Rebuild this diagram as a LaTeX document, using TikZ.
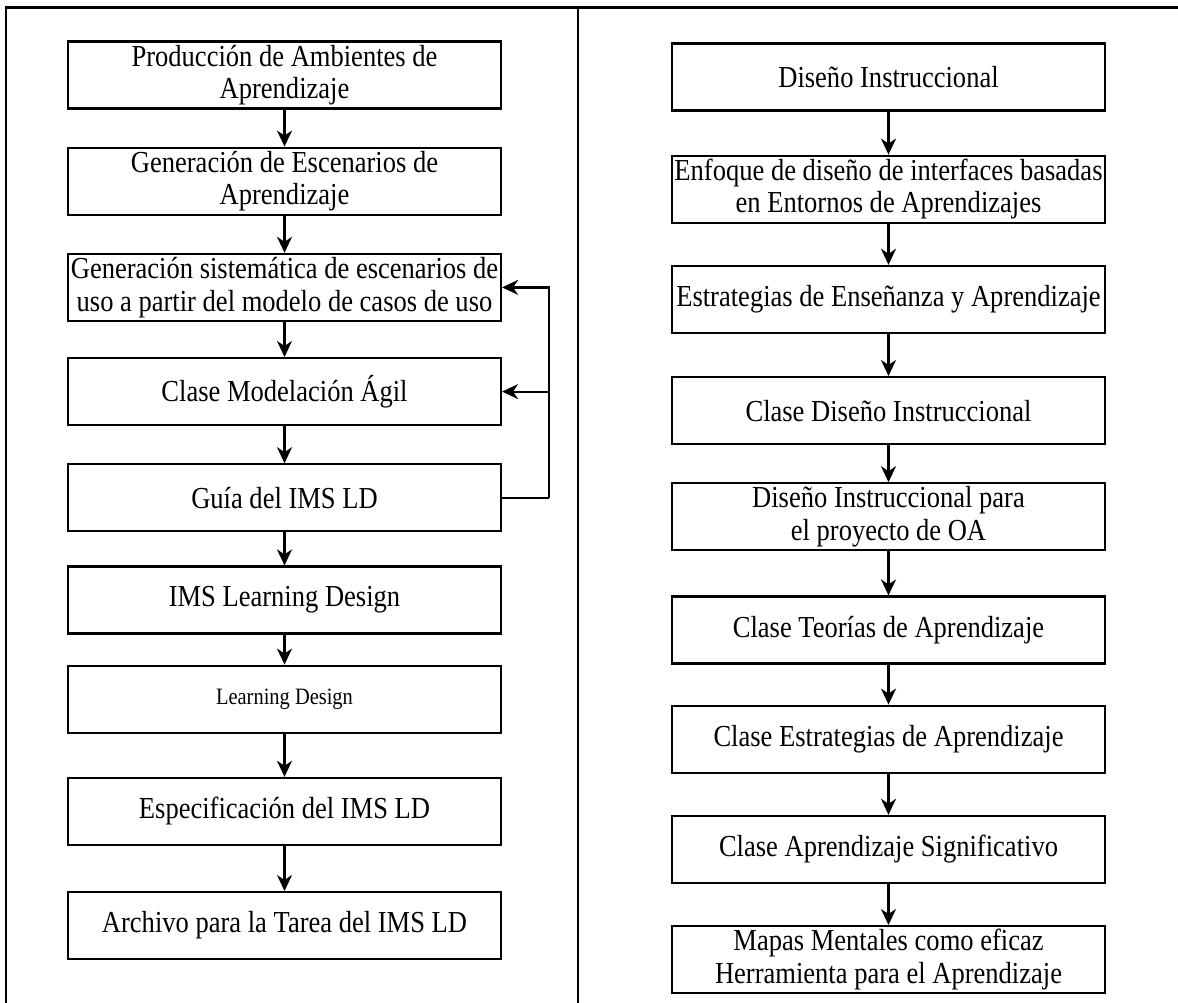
\documentclass[tikz,border=0pt]{standalone}
\usepackage{fontspec}
\setmainfont{Liberation Serif}[FakeStretch=0.87]
\usetikzlibrary{positioning,arrows.meta}

\begin{document}
\begin{tikzpicture}%
  [x=1pt,y=1pt,
   task/.style=
    {draw,line width=2.2pt,minimum height=67pt,minimum width=433pt,
     inner sep=1pt,align=center,font=\fontsize{30.5}{32.5}\selectfont},
   small/.style={font=\fontsize{23.5}{26}\selectfont},
   frame/.style={line width=2.2pt},
   flow/.style={line width=2.2pt,-{Stealth[length=16pt,width=15pt,inset=5pt]}},
   back/.style={line width=2.2pt}
  ]
  \useasboundingbox (0,0) rectangle (1178,-1003);
  \draw[frame] (6,-1003) -- (6,-7.5) -- (1178,-7.5);
  \draw[frame] (578,-7.5) -- (578,-1003);

  \node[task] (l1) at (284.5,-75) {Producción de Ambientes de\\Aprendizaje};
  \node[task,below=37pt of l1] (l2) {Generación de Escenarios de\\Aprendizaje};
  \node[task,below=37pt of l2] (l3) {Generación sistemática de escenarios de\\uso a partir del modelo de casos de uso};
  \node[task,below=35pt of l3] (l4) {Clase Modelación Ágil};
  \node[task,below=37pt of l4] (l5) {Guía del IMS LD};
  \node[task,below=33pt of l5] (l6) {IMS Learning Design};
  \node[task,small,below=30pt of l6] (l7) {Learning Design};
  \node[task,below=43pt of l7] (l8) {Especificación del IMS LD};
  \node[task,below=45pt of l8] (l9) {Archivo para la Tarea del IMS LD};
  \foreach \a/\b in {l1/l2,l2/l3,l3/l4,l4/l5,l5/l6,l6/l7,l7/l8,l8/l9}
    \draw[flow] (\a) -- (\b);

  \coordinate (ret) at ([xshift=47pt]l5.east);
  \draw[back] (l5.east) -- (ret);
  \draw[flow] (ret) |- (l3.east);
  \draw[flow] (ret) |- (l4.east);

  \node[task] (r1) at (888.5,-77) {Diseño Instruccional};
  \node[task,below=43pt of r1] (r2) {Enfoque de diseño de interfaces basadas\\en Entornos de Aprendizajes};
  \node[task,below=41pt of r2] (r3) {Estrategias de Enseñanza y Aprendizaje};
  \node[task,below=42pt of r3] (r4) {Clase Diseño Instruccional};
  \node[task,below=37pt of r4] (r5) {Diseño Instruccional para\\el proyecto de OA};
  \node[task,below=44pt of r5] (r6) {Clase Teorías de Aprendizaje};
  \node[task,below=40pt of r6] (r7) {Clase Estrategias de Aprendizaje};
  \node[task,below=41pt of r7] (r8) {Clase Aprendizaje Significativo};
  \node[task,below=41pt of r8] (r9) {Mapas Mentales como eficaz\\Herramienta para el Aprendizaje};
  \foreach \a/\b in {r1/r2,r2/r3,r3/r4,r4/r5,r5/r6,r6/r7,r7/r8,r8/r9}
    \draw[flow] (\a) -- (\b);

\end{tikzpicture}
\end{document}
